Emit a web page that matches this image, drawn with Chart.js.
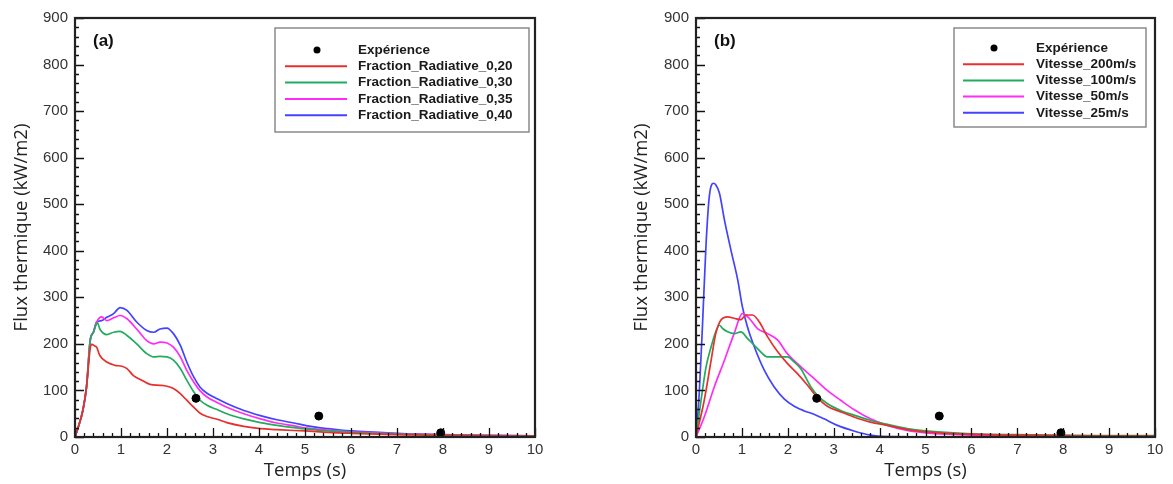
<!DOCTYPE html>
<html>
<head>
<meta charset="utf-8">
<script src="https://cdn.jsdelivr.net/npm/chart.js@4.4.1/dist/chart.umd.min.js"></script>
<style>
  html, body { margin: 0; padding: 0; background: #fff; }
  #wrap { position: relative; width: 1173px; height: 484px; }
  canvas { position: absolute; top: 0; }
  #chartA { left: 0; }
  #chartB { left: 586px; }
</style>
</head>
<body>
<div id="wrap">
  <canvas id="chartA" width="586" height="484"></canvas>
  <canvas id="chartB" width="587" height="484"></canvas>
</div>
<script>
/* ---- Experimental points (same in both panels) ---- */
const expT = [2.63, 5.3, 7.95];
const expQ = [83, 45, 9];

/* ---- Panel (a) : radiative fraction ---- */
const a20T = [0,0.07,0.17,0.25,0.33,0.36,0.44,0.47,0.54,0.69,0.87,1.02,1.13,1.27,1.45,1.63,1.85,2.0,2.14,2.29,2.43,2.58,2.72,2.87,3.09,3.3,3.67,4.03,4.39,4.76,5.0,5.5,6,7,8,9,10];
const a20Q = [0,21,57,107,190,199,195,193,175,161,154,152,147,132,122,113,111,109,104,93,79,64,51,44,38,31,23,18,16,14,13,10,8,5,3.5,2.5,2];

const a30T = [0,0.07,0.17,0.25,0.33,0.4,0.49,0.54,0.69,0.84,0.98,1.13,1.34,1.56,1.71,1.85,2.0,2.14,2.29,2.43,2.58,2.72,2.87,3.09,3.3,3.67,4.03,4.39,4.76,5.05,5.5,6,7,8,9,10];
const a30Q = [0,21,57,107,207,225,245,232,220,225,227,218,200,179,172,173,172,165,147,122,97,79,68,59,50,39,31,25,20,17,13,10,6,4,3,2];

const a35T = [0,0.07,0.17,0.25,0.33,0.4,0.47,0.58,0.69,0.84,0.98,1.13,1.34,1.56,1.71,1.85,2.0,2.14,2.29,2.43,2.58,2.72,2.87,3.09,3.3,3.67,4.03,4.39,4.76,5.05,5.5,6,7,8,9,10];
const a35Q = [0,21,57,107,207,225,247,258,250,256,261,254,232,207,200,204,202,193,172,143,118,99,86,74,64,50,39,30,24,19,15,11,7,4.5,3,2];

const a40T = [0,0.07,0.17,0.25,0.33,0.4,0.47,0.58,0.69,0.84,0.98,1.13,1.34,1.56,1.71,1.85,2.0,2.14,2.29,2.43,2.58,2.72,2.87,3.09,3.3,3.67,4.03,4.39,4.76,5.05,5.5,6,7,8,9,10];
const a40Q = [0,21,57,107,207,225,247,250,257,265,278,272,247,229,225,232,234,222,197,161,129,107,94,82,72,57,46,37,30,24,18,13,8,5,3.5,2.5];

/* ---- Panel (b) : injection velocity ---- */
const b200T = [0,0.18,0.33,0.43,0.54,0.69,0.83,0.98,1.09,1.23,1.38,1.56,1.78,1.99,2.21,2.43,2.64,2.86,3.15,3.44,3.8,4.17,4.6,5.0,6,7,8,9,10];
const b200Q = [0,79,165,222,251,258,255,252,262,262,247,215,183,158,136,111,85,66,54,43,32,25,16,11,6,4,3,2,2];

const b100T = [0,0.11,0.22,0.33,0.43,0.51,0.58,0.69,0.83,0.98,1.12,1.34,1.56,1.78,1.99,2.14,2.28,2.5,2.64,2.86,3.15,3.44,3.8,4.17,4.6,5.0,6,7,8,9,10];
const b100Q = [0,79,151,194,226,240,233,226,222,226,212,190,172,172,172,161,147,108,90,72,57,47,36,27,18,13,7,5,4,3,3];

const b50T = [0,0.18,0.4,0.62,0.83,1.01,1.16,1.34,1.56,1.78,1.99,2.28,2.57,2.86,3.15,3.44,3.8,4.17,4.6,5.0,6,7,8,9,10];
const b50Q = [0,43,108,165,222,265,255,233,222,208,179,151,126,100,79,59,39,25,14,9,4,3,2,2,1];

const b25T = [0,0.07,0.14,0.22,0.29,0.38,0.43,0.51,0.62,0.76,0.91,1.01,1.12,1.27,1.49,1.7,1.92,2.14,2.36,2.57,2.79,3.08,3.44,3.8,4.02,5,6,8,10];
const b25Q = [0,93,237,416,517,545,542,524,466,402,337,280,237,194,143,108,82,66,56,49,39,25,13,4,1.5,0.5,0.5,0.5,0.5];

const xTicks = [0,1,2,3,4,5,6,7,8,9,10];
const yTicks = [0,100,200,300,400,500,600,700,800,900];

const RED = '#e5312d', GREEN = '#22ab5c', MAGENTA = '#ff2df4', BLUE = '#4343ff';
const TICK_FONT = { family: '"Liberation Sans", Arial, sans-serif', size: 15 };
const TITLE_FONT = { family: '"Open Sans", sans-serif', size: 18.5 };

const pts = (t, q) => t.map((v, i) => ({ x: v, y: q[i] }));

function lineSet(label, t, q, color) {
  return {
    label, data: pts(t, q), borderColor: color, backgroundColor: color,
    borderWidth: 1.7, pointRadius: 0, cubicInterpolationMode: 'monotone',
    showLine: true, order: 1
  };
}

function expSet() {
  return {
    label: 'Expérience', data: pts(expT, expQ), showLine: false,
    pointRadius: 4, pointBackgroundColor: '#000', pointBorderColor: '#000',
    borderColor: '#000', order: 0
  };
}

// frame, inward ticks, panel tag and boxed legend (Tecplot look)
const tecplotLook = {
  id: 'tecplotLook',
  afterDatasetsDraw(chart, args, o) {
    const { ctx, chartArea: a, scales: { x, y } } = chart;
    ctx.save();
    ctx.strokeStyle = '#111';
    ctx.lineWidth = 1.3;
    ctx.beginPath();
    for (let i = 0; i <= 50; i++) {
      const px = Math.round(x.getPixelForValue(i * 0.2)) + 0.5;
      const len = i % 5 === 0 ? 9 : 4;
      ctx.moveTo(px, a.bottom); ctx.lineTo(px, a.bottom - len);
    }
    for (let i = 0; i <= 45; i++) {
      const py = Math.round(y.getPixelForValue(i * 20)) + 0.5;
      const len = i % 5 === 0 ? 9 : 4;
      ctx.moveTo(a.left, py); ctx.lineTo(a.left + len, py);
    }
    ctx.stroke();

    ctx.lineWidth = 2.2;
    ctx.strokeStyle = '#222';
    ctx.strokeRect(a.left, a.top, a.right - a.left, a.bottom - a.top);

    // panel tag
    ctx.fillStyle = '#111';
    ctx.font = 'bold 17px "Liberation Sans", Arial, sans-serif';
    ctx.textBaseline = 'middle';
    ctx.textAlign = 'left';
    ctx.fillText(o.tag, a.left + 18, 41);

    // legend box
    const L = o.box;
    ctx.strokeStyle = '#8a8a8a';
    ctx.lineWidth = 1.5;
    ctx.strokeRect(L.x, L.y, L.w, L.h);
    ctx.font = 'bold 13.5px "Liberation Sans", Arial, sans-serif';
    chart.data.datasets.forEach((ds, i) => {
      const yy = L.row0 + i * L.step;
      if (ds.showLine === false) {
        ctx.fillStyle = '#000';
        ctx.beginPath(); ctx.arc(L.x + L.dot, yy, 3.5, 0, Math.PI * 2); ctx.fill();
      } else {
        ctx.strokeStyle = ds.borderColor;
        ctx.lineWidth = 2;
        ctx.beginPath(); ctx.moveTo(L.x + L.l0, yy); ctx.lineTo(L.x + L.l1, yy); ctx.stroke();
      }
      ctx.fillStyle = '#1a1a1a';
      ctx.fillText(ds.label, L.x + L.tx, yy);
    });
    ctx.restore();
  }
};

function makePanel(id, datasets, pad, yWidth, tag, box) {
  return new Chart(document.getElementById(id), {
    type: 'scatter',
    data: { datasets },
    options: {
      responsive: false, animation: false,
      layout: { padding: pad },
      plugins: { legend: { display: false }, tooltip: { enabled: false }, tecplotLook: { tag, box } },
      scales: {
        x: {
          type: 'linear', min: 0, max: 10,
          afterBuildTicks: s => { s.ticks = xTicks.map(v => ({ value: v })); },
          afterFit: s => { s.height = 47; },
          ticks: { font: TICK_FONT, color: '#333', padding: 4, maxRotation: 0 },
          grid: { display: false, drawTicks: false },
          border: { display: false },
          title: { display: true, text: 'Temps (s)', font: TITLE_FONT, color: '#222', padding: { top: 0, bottom: 2 } }
        },
        y: {
          type: 'linear', min: 0, max: 900,
          afterBuildTicks: s => { s.ticks = yTicks.map(v => ({ value: v })); },
          afterFit: s => { s.width = yWidth; },
          ticks: { font: TICK_FONT, color: '#333', padding: 7 },
          grid: { display: false, drawTicks: false },
          border: { display: false },
          title: { display: true, text: 'Flux thermique (kW/m2)', font: TITLE_FONT, color: '#222', padding: { top: 0, bottom: 0 } }
        }
      }
    },
    plugins: [tecplotLook]
  });
}

makePanel('chartA', [
  expSet(),
  lineSet('Fraction_Radiative_0,20', a20T, a20Q, RED),
  lineSet('Fraction_Radiative_0,30', a30T, a30Q, GREEN),
  lineSet('Fraction_Radiative_0,35', a35T, a35Q, MAGENTA),
  lineSet('Fraction_Radiative_0,40', a40T, a40Q, BLUE)
], { left: 11, right: 51, top: 18, bottom: 0 }, 64, '(a)',
  { x: 275, y: 28, w: 254, h: 104, row0: 50, step: 16.3, dot: 42, l0: 10, l1: 72, tx: 83 });

makePanel('chartB', [
  expSet(),
  lineSet('Vitesse_200m/s', b200T, b200Q, RED),
  lineSet('Vitesse_100m/s', b100T, b100Q, GREEN),
  lineSet('Vitesse_50m/s', b50T, b50Q, MAGENTA),
  lineSet('Vitesse_25m/s', b25T, b25Q, BLUE)
], { left: 45, right: 18, top: 18, bottom: 0 }, 65, '(b)',
  { x: 368, y: 28, w: 192, h: 99, row0: 48, step: 16.2, dot: 40, l0: 9, l1: 70, tx: 82 });
</script>
</body>
</html>
